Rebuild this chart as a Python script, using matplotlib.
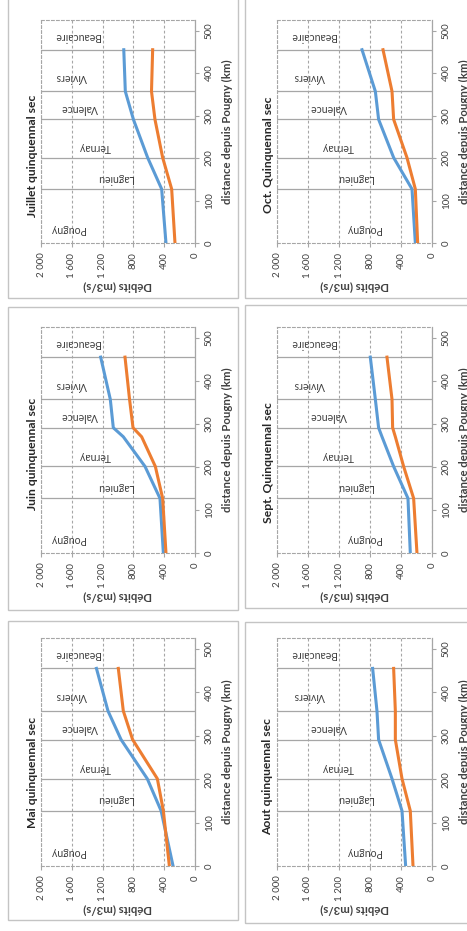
import matplotlib
matplotlib.use('Agg')
import matplotlib.pyplot as plt
from matplotlib.patches import Rectangle

plt.rcParams['font.family'] = ['Lato', 'DejaVu Sans']

# ---------------- data ----------------
stations = ['Pougny', 'Lagnieu', 'Ternay', 'Valence', 'Viviers', 'Beaucaire']
station_lines_km = [127, 201, 291, 357, 455]
label_km = [32, 152, 225, 317, 390, 487]
label_debit_left = [1655, 1035, 1295, 1505, 1610, 1530]
label_debit_right = [882, 990, 1215, 1340, 1581, 1528]

dist = [0, 127, 201, 291, 357, 455]
dist_fine = [0, 127, 201, 270, 291, 357, 455]

mai_blue = [285, 440, 620, 960, 1130, 1280]
mai_orange = [333, 411, 489, 810, 931, 996]
juin_blue = [411, 455, 649, 931, 1061, 1100, 1225]
juin_orange = [377, 420, 515, 693, 805, 850, 909]
juil_blue = [377, 433, 615, 800, 905, 925]
juil_orange = [260, 303, 420, 520, 565, 550]
aout_blue = [340, 387, 516, 689, 710, 766]
aout_orange = [245, 280, 387, 473, 473, 495]
sept_blue = [280, 310, 495, 645, 689, 731, 796]
sept_orange = [194, 237, 366, 473, 508, 516, 581]
oct_blue = [215, 258, 495, 689, 731, 903]
oct_orange = [185, 215, 323, 495, 516, 632]

titles = ['Mai quinquennal sec', 'Juin quinquennal sec', 'Juillet quinquennal sec',
          'Aout quinquennal sec', 'Sept. Quinquennal sec', 'Oct. Quinquennal sec']

debit_ticks = [0, 400, 800, 1200, 1600, 2000]
debit_tick_labels = ['0', '400', '800', '1 200', '1 600', '2 000']
dist_ticks = [0, 100, 200, 300, 400, 500]
dist_tick_labels = ['0', '100', '200', '300', '400', '500']

BLUE = '#5B9BD5'
ORANGE = '#ED7D31'
GRID = '#a6a6a6'
TXT = '#404040'

W, H = 467, 931
fig = plt.figure(figsize=(W / 100, H / 100), dpi=100)


def fx(px):
    return px / W


def fy(py):
    return 1 - py / H


# layout in pixel coordinates (image coords, y down)
col_axes_x = [(41, 195), (277, 432)]
row_axes_y = [(20, 243), (327, 553), (638, 866)]
col_frame_x = [(8, 238), (245, 480)]
row_frame_y = [[(-5, 298), (307, 610), (621, 920)],
               [(-5, 298), (305, 608), (622, 923)]]
title_x = [32, 268]
title_bottom = [[217, 510, 828], [213, 523, 835]]

panels = [
    (0, 2, titles[0], dist, mai_blue, mai_orange),
    (0, 1, titles[1], dist_fine, juin_blue, juin_orange),
    (0, 0, titles[2], dist, juil_blue, juil_orange),
    (1, 2, titles[3], dist, aout_blue, aout_orange),
    (1, 1, titles[4], dist_fine, sept_blue, sept_orange),
    (1, 0, titles[5], dist, oct_blue, oct_orange),
]

for col, row, title, d, blue, orange in panels:
    fx0, fx1 = col_frame_x[col]
    fy0, fy1 = row_frame_y[col][row]
    fig.add_artist(Rectangle((fx(fx0), fy(fy1)), (fx1 - fx0) / W, (fy1 - fy0) / H,
                             transform=fig.transFigure, fill=False,
                             ec='#c4c4c4', lw=1.0))

    x0, x1 = col_axes_x[col]
    yt, yb = row_axes_y[row]
    ax = fig.add_axes([fx(x0), fy(yb), (x1 - x0) / W, (yb - yt) / H])
    ax.set_xlim(2000, 0)
    ax.set_ylim(0, 525)

    for s in station_lines_km:
        ax.axhline(s, color=GRID, lw=0.9, zorder=1)

    ax.plot(blue, d, color=BLUE, lw=2.2, zorder=3, solid_joinstyle='round')
    ax.plot(orange, d, color=ORANGE, lw=2.2, zorder=3, solid_joinstyle='round')

    lab_deb = label_debit_left if col == 0 else label_debit_right
    for name, km, deb in zip(stations, label_km, lab_deb):
        ax.text(deb, km, name, rotation=180, ha='center', va='center',
                fontsize=7.6, color=TXT, zorder=2)

    ax.set_xticks(debit_ticks)
    ax.set_xticklabels(debit_tick_labels, rotation=90, va='top', ha='center')
    ax.grid(axis='x', ls=(0, (2.5, 2)), color=GRID, lw=0.8)
    ax.set_axisbelow(True)

    ax.yaxis.tick_right()
    ax.set_yticks(dist_ticks)
    ax.set_yticklabels(dist_tick_labels, rotation=90, va='center', ha='left')
    ax.yaxis.set_label_position('right')
    ax.set_ylabel('distance depuis Pougny (km)', rotation=90, fontweight='bold',
                  fontsize=8.2, color=TXT, labelpad=6)
    ax.set_xlabel('Débits (m3/s)', rotation=180, fontweight='bold',
                  fontsize=8.2, color=TXT, labelpad=2)

    ax.tick_params(axis='x', length=3, color=GRID, labelsize=7,
                   labelcolor=TXT, pad=4)
    ax.tick_params(axis='y', length=3, color=GRID, labelsize=7,
                   labelcolor=TXT, pad=4)

    for side in ['left', 'top', 'bottom']:
        ax.spines[side].set_color(GRID)
        ax.spines[side].set_linestyle((0, (2.5, 2)))
        ax.spines[side].set_linewidth(0.8)
    ax.spines['right'].set_color(GRID)
    ax.spines['right'].set_linewidth(0.9)

    fig.text(fx(title_x[col]), fy(title_bottom[col][row]), title, rotation=90,
             ha='center', va='bottom', fontsize=8.7, fontweight='bold',
             color='#262626')

fig.savefig('out.png', dpi=100)
